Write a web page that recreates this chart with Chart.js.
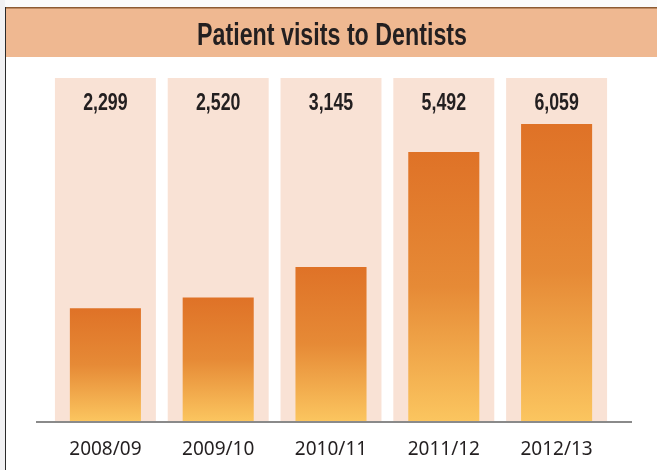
<!DOCTYPE html>
<html>
<head>
<meta charset="utf-8">
<script src="https://cdn.jsdelivr.net/npm/chart.js@4.4.1/dist/chart.umd.min.js"></script>
<style>
  html, body { margin: 0; padding: 0; background: #fff; }
  #wrap { position: relative; width: 657px; height: 470px; }
</style>
</head>
<body>
<div id="wrap"><canvas id="visitsChart" width="657" height="470"></canvas></div>
<script>
const years = ['2008/09', '2009/10', '2010/11', '2011/12', '2012/13'];
const visits = [2299, 2520, 3145, 5492, 6059];
const axisMax = 7000;
const track = years.map(() => axisMax); // pale full-height columns behind the bars
const chartTitle = 'Patient visits to Dentists';

const boldFont = "'Liberation Sans', Arial, sans-serif";

// orange gradient, dark at the top of each bar, pale at the bottom
function barGradient(context) {
  const chart = context.chart;
  const y = chart.scales.y;
  if (!chart.chartArea || !y) return '#E07A2C';
  const top = y.getPixelForValue(context.raw);
  const bottom = y.getPixelForValue(0);
  const g = chart.ctx.createLinearGradient(0, top, 0, bottom);
  g.addColorStop(0, '#DF7227');
  g.addColorStop(0.5, '#E68A36');
  g.addColorStop(1, '#FBC55F');
  return g;
}

// condensed bold text (the original uses a condensed face)
function narrowText(c, text, x, y, size, squeeze) {
  c.save();
  c.translate(x, y);
  c.scale(squeeze, 1);
  c.font = 'bold ' + size + 'px ' + boldFont;
  c.fillText(text, 0, 0);
  c.restore();
}

const framePlugin = {
  id: 'frame',
  beforeDraw(chart) {
    const c = chart.ctx;
    c.save();
    c.fillStyle = '#fafafa';
    c.fillRect(0, 0, 657, 7);
    c.fillStyle = '#f1f1f3';
    c.fillRect(0, 0, 5, 470);
    c.fillStyle = '#EFB891';
    c.fillRect(5, 8, 652, 49);
    c.fillStyle = '#8C5A32';
    c.fillRect(5, 7, 652, 1.5);
    c.fillStyle = '#2a2a2a';
    c.fillRect(5, 7, 1, 463);
    // title
    c.fillStyle = '#231f20';
    c.textAlign = 'center';
    c.textBaseline = 'alphabetic';
    narrowText(c, chartTitle, 332, 45, 31, 0.75);
    c.restore();
  },
  afterDatasetsDraw(chart) {
    const c = chart.ctx;
    const x = chart.scales.x;
    const y = chart.scales.y;
    c.save();
    // base line
    const base = y.getPixelForValue(0);
    c.strokeStyle = '#8a8a8a';
    c.lineWidth = 2;
    c.beginPath();
    c.moveTo(36, base + 1);
    c.lineTo(632, base + 1);
    c.stroke();
    // value labels at the top of each pale column
    c.fillStyle = '#231f20';
    c.textAlign = 'center';
    c.textBaseline = 'alphabetic';
    visits.forEach((v, i) => {
      narrowText(c, v.toLocaleString('en-US'), x.getPixelForValue(i), y.getPixelForValue(axisMax) + 32, 24, 0.74);
    });
    c.restore();
  }
};

const ctx = document.getElementById('visitsChart').getContext('2d');
const visitsChart = new Chart(ctx, {
  type: 'bar',
  data: {
    labels: years,
    datasets: [{
      label: 'Patient visits',
      data: visits,
      backgroundColor: barGradient,
      barPercentage: 0.63,
      categoryPercentage: 1,
      grouped: false,
      order: 1
    }, {
      label: 'track',
      data: track,
      backgroundColor: '#F9E2D5',
      barPercentage: 0.895,
      categoryPercentage: 1,
      grouped: false,
      order: 2
    }]
  },
  options: {
    responsive: false,
    animation: false,
    layout: { padding: { left: 49, right: 44, top: 78, bottom: -8 } },
    plugins: {
      legend: { display: false },
      tooltip: { enabled: false },
      title: { display: false }
    },
    scales: {
      x: {
        grid: { display: false, drawTicks: false },
        border: { display: false },
        ticks: { color: '#231f20', padding: 19, font: { family: "'Noto Sans', sans-serif", size: 19, lineHeight: 1 } }
      },
      y: {
        display: false,
        min: 0,
        max: axisMax
      }
    }
  },
  plugins: [framePlugin]
});
</script>
</body>
</html>
